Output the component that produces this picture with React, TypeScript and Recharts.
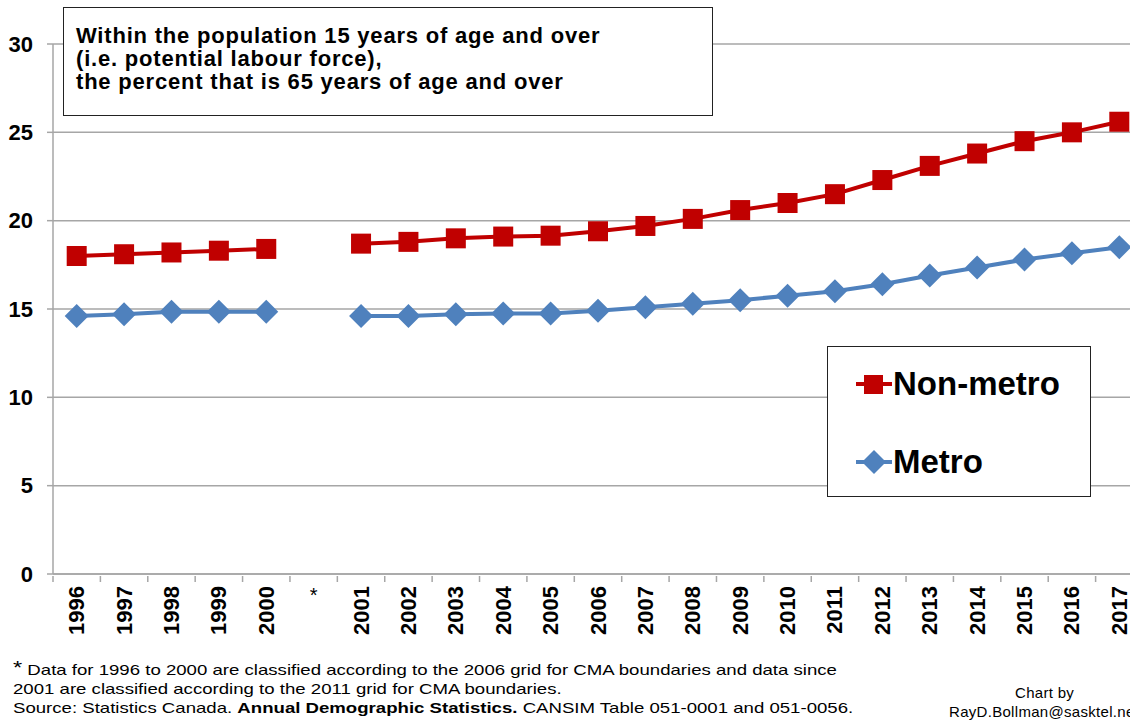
import { CartesianGrid, Legend, Line, LineChart, XAxis, YAxis } from 'recharts';

const years = [
  '1996', '1997', '1998', '1999', '2000', '*',
  '2001', '2002', '2003', '2004', '2005', '2006', '2007', '2008', '2009',
  '2010', '2011', '2012', '2013', '2014', '2015', '2016', '2017',
];

const nonMetro = [
  18.0, 18.1, 18.2, 18.3, 18.4, null,
  18.7, 18.8, 19.0, 19.1, 19.15, 19.4, 19.7, 20.1, 20.6,
  21.0, 21.5, 22.3, 23.1, 23.8, 24.5, 25.0, 25.6,
];

const metro = [
  14.6, 14.7, 14.85, 14.85, 14.85, null,
  14.6, 14.6, 14.7, 14.75, 14.75, 14.9, 15.1, 15.3, 15.5,
  15.75, 16.0, 16.4, 16.9, 17.35, 17.8, 18.15, 18.5,
];

const yTicks = [0, 5, 10, 15, 20, 25, 30];

const data = years.map((year, i) => ({ year, nonMetro: nonMetro[i], metro: metro[i] }));

const RED = '#C00000';
const BLUE = '#4F81BD';
const GRID = '#A6A6A6';
const FONT = '"Liberation Sans", Arial, sans-serif';

const CHART_W = 1143;
const CHART_H = 721;
const LEFT = 53;
const STEP = (CHART_W - LEFT) / years.length;

const SquareDot = (props: any) => {
  const { cx, cy, value } = props;
  if (value == null || cx == null || cy == null) return null;
  return <rect x={cx - 10} y={cy - 10} width={20} height={20} fill={RED} />;
};

const DiamondDot = (props: any) => {
  const { cx, cy, value } = props;
  if (value == null || cx == null || cy == null) return null;
  const r = 12;
  return (
    <polygon
      points={`${cx},${cy - r} ${cx + r},${cy} ${cx},${cy + r} ${cx - r},${cy}`}
      fill={BLUE}
    />
  );
};

const YearTick = (props: any) => {
  const { x, y, payload } = props;
  const left = x - STEP / 2;
  return (
    <g>
      <line x1={left} y1={y} x2={left} y2={y + 6} stroke={GRID} strokeWidth={1.5} />
      {payload.value === '*' ? (
        <text x={x} y={y + 26} textAnchor="middle" fontSize={20} fontFamily={FONT} fill="#000">
          *
        </text>
      ) : (
        <text
          transform={`translate(${x},${y + 10}) rotate(-90)`}
          textAnchor="end"
          dominantBaseline="central"
          fontSize={22}
          fontWeight="bold"
          fontFamily={FONT}
          fill="#000"
        >
          {payload.value}
        </text>
      )}
    </g>
  );
};

const LegendBox = () => (
  <div
    style={{
      width: 264,
      height: 151,
      border: '1.5px solid #222',
      background: '#fff',
      fontFamily: FONT,
      fontWeight: 'bold',
      fontSize: 33,
      boxSizing: 'border-box',
      position: 'relative',
    }}
  >
    <div style={{ position: 'absolute', left: 27, top: 18, display: 'flex', alignItems: 'center' }}>
      <svg width={38} height={24}>
        <line x1={1} y1={12} x2={37} y2={12} stroke={RED} strokeWidth={4} />
        <rect x={9} y={3} width={19} height={19} fill={RED} />
      </svg>
      <span>Non-metro</span>
    </div>
    <div style={{ position: 'absolute', left: 27, top: 96, display: 'flex', alignItems: 'center' }}>
      <svg width={38} height={26}>
        <line x1={1} y1={13} x2={37} y2={13} stroke={BLUE} strokeWidth={4} />
        <polygon points="19,1 31,13 19,25 7,13" fill={BLUE} />
      </svg>
      <span>Metro</span>
    </div>
  </div>
);

export default function App() {
  return (
    <div
      style={{
        position: 'relative',
        width: 1130,
        height: 721,
        overflow: 'hidden',
        background: '#fff',
        fontFamily: FONT,
      }}
    >
      <style>{'body{margin:0;overflow:hidden}'}</style>
      <LineChart
        width={CHART_W}
        height={CHART_H}
        data={data}
        margin={{ top: 44, right: 0, left: 0, bottom: 0 }}
      >
        <CartesianGrid vertical={false} stroke={GRID} strokeWidth={1.5} />
        <XAxis
          dataKey="year"
          scale="band"
          interval={0}
          height={147}
          tickSize={0}
          tickLine={false}
          axisLine={{ stroke: GRID, strokeWidth: 1.5 }}
          tick={<YearTick />}
        />
        <YAxis
          domain={[0, 30]}
          ticks={yTicks}
          width={LEFT}
          tickSize={6}
          tickMargin={14}
          tickLine={{ stroke: GRID, strokeWidth: 1.5 }}
          axisLine={{ stroke: GRID, strokeWidth: 1.5 }}
          tick={{ fontSize: 22, fontWeight: 'bold', fill: '#000', fontFamily: FONT }}
        />
        <Legend
          layout="horizontal"
          verticalAlign="middle"
          align="center"
          content={<LegendBox />}
          wrapperStyle={{ left: 827, top: 346, width: 266, height: 153 }}
        />
        <Line
          dataKey="nonMetro"
          name="Non-metro"
          stroke={RED}
          strokeWidth={4}
          dot={<SquareDot />}
          activeDot={false}
          isAnimationActive={false}
        />
        <Line
          dataKey="metro"
          name="Metro"
          stroke={BLUE}
          strokeWidth={4}
          dot={<DiamondDot />}
          activeDot={false}
          isAnimationActive={false}
        />
      </LineChart>

      <div
        style={{
          position: 'absolute',
          left: 63,
          top: 7,
          width: 650,
          height: 109,
          border: '1.5px solid #222',
          background: '#fff',
          boxSizing: 'border-box',
          padding: '16px 0 0 12px',
          fontWeight: 'bold',
          fontSize: 22,
          letterSpacing: 0.8,
          lineHeight: '23px',
          color: '#000',
          whiteSpace: 'nowrap',
        }}
      >
        Within the population 15 years of age and over
        <br />
        (i.e. potential labour force),
        <br />
        the percent that is 65 years of age and over
      </div>

      <div
        style={{
          position: 'absolute',
          left: 13,
          top: 658,
          fontSize: 15,
          lineHeight: '19px',
          color: '#000',
          whiteSpace: 'nowrap',
          transform: 'scaleX(1.24)',
          transformOrigin: 'left top',
        }}
      >
        <div>
          <span style={{ fontSize: 19, verticalAlign: '1px' }}>*</span> Data for 1996 to 2000 are
          classified according to the 2006 grid for CMA boundaries and data since
        </div>
        <div>2001 are classified according to the 2011 grid for CMA boundaries.</div>
        <div>
          Source: Statistics Canada. <b>Annual Demographic Statistics.</b> CANSIM Table 051-0001
          and 051-0056.
        </div>
      </div>

      <div
        style={{
          position: 'absolute',
          left: 949,
          top: 683,
          fontSize: 15,
          lineHeight: '19px',
          color: '#000',
          whiteSpace: 'nowrap',
          letterSpacing: 0.3,
        }}
      >
        <div style={{ paddingLeft: 66 }}>Chart by</div>
        <div>RayD.Bollman@sasktel.net</div>
      </div>
    </div>
  );
}
